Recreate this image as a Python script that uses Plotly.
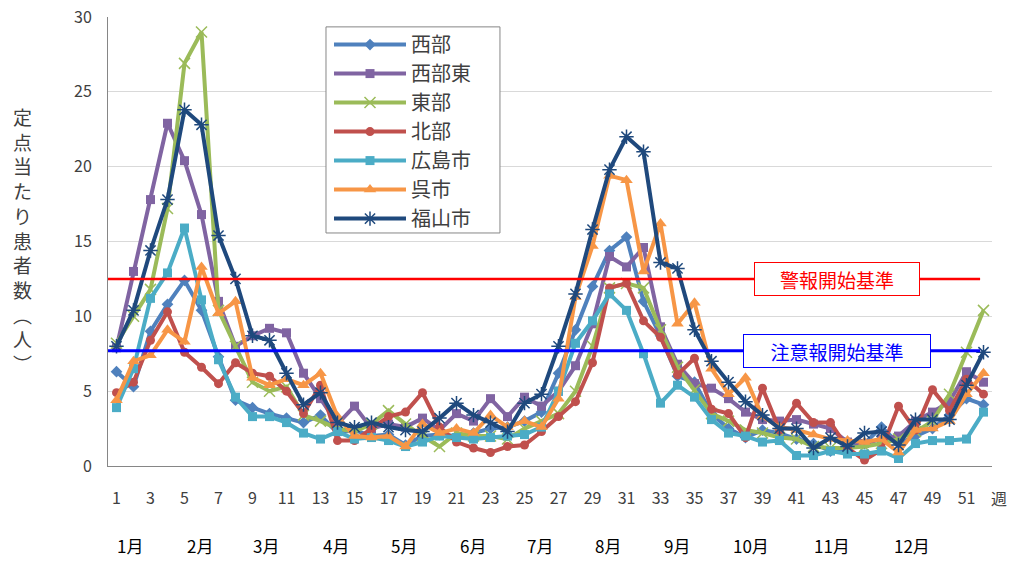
import plotly.graph_objects as go

weeks = list(range(1, 53))

seibu = [6.3, 5.3, 9.0, 10.8, 12.4, 10.4, 7.3, 4.4, 3.9, 3.5, 3.2, 2.9, 3.4, 2.2, 2.4, 2.0, 2.1, 1.4, 2.0, 2.1,
         2.0, 2.2, 2.5, 2.6, 3.0, 3.6, 6.2, 9.1, 12.0, 14.4, 15.3, 11.0, 8.7, 6.0, 5.6, 3.5, 2.5, 1.9, 2.4, 2.2,
         1.8, 1.5, 1.0, 1.2, 1.5, 2.6, 1.5, 2.0, 2.5, 3.4, 4.5, 4.1]
seibu_higashi = [7.9, 13.0, 17.8, 22.9, 20.4, 16.8, 11.0, 8.0, 8.7, 9.2, 8.9, 6.2, 4.5, 2.8, 4.0, 2.5, 2.8, 2.6, 3.2, 2.4,
                 3.5, 3.0, 4.5, 3.3, 4.6, 4.0, 5.0, 6.7, 9.5, 14.0, 13.3, 14.6, 9.3, 6.8, 5.5, 5.2, 4.5, 3.6, 3.1, 3.0,
                 3.1, 2.8, 2.5, 1.6, 1.5, 1.8, 2.0, 3.0, 3.6, 4.3, 6.3, 5.6]
higashi = [8.2, 10.0, 11.8, 17.2, 26.9, 29.0, 10.4, 8.0, 5.6, 5.0, 5.3, 3.4, 3.0, 2.5, 2.3, 2.8, 3.7, 2.8, 2.0, 1.3,
           2.2, 2.0, 2.0, 1.8, 2.5, 3.0, 3.5, 5.0, 8.0, 11.9, 12.2, 11.9, 9.1, 6.6, 5.1, 3.5, 3.0, 2.4, 2.2, 1.9,
           1.8, 1.3, 1.2, 1.2, 1.3, 1.5, 1.8, 2.3, 3.0, 4.8, 7.6, 10.4]
hokubu = [4.9, 5.6, 8.4, 10.3, 7.6, 6.6, 5.5, 6.9, 6.2, 6.0, 5.0, 3.5, 5.4, 1.7, 1.7, 2.5, 3.3, 3.6, 4.9, 2.6,
          1.6, 1.2, 0.9, 1.3, 1.4, 2.3, 3.3, 4.3, 6.9, 11.9, 12.2, 9.7, 8.6, 6.1, 7.2, 3.8, 3.5, 1.9, 5.2, 2.4,
          4.2, 2.9, 2.9, 1.2, 0.4, 1.1, 4.0, 2.4, 5.1, 3.7, 5.8, 4.8]
hiroshima = [3.9, 6.5, 11.2, 12.9, 15.9, 11.1, 7.1, 4.6, 3.3, 3.3, 2.9, 2.2, 1.8, 2.3, 1.8, 1.9, 1.7, 1.3, 1.6, 2.0,
             1.9, 1.8, 1.9, 2.0, 2.1, 2.6, 5.0, 8.2, 9.7, 11.5, 10.4, 7.5, 4.2, 5.4, 4.6, 3.1, 2.2, 2.0, 1.6, 1.7,
             0.7, 0.7, 1.0, 0.8, 0.8, 1.0, 0.5, 1.5, 1.7, 1.7, 1.8, 3.6]
kure = [4.4, 7.0, 7.4, 9.1, 8.3, 13.3, 10.2, 11.0, 5.9, 5.4, 5.8, 5.4, 6.2, 3.3, 2.0, 1.9, 2.0, 1.3, 2.8, 2.2,
        2.5, 2.2, 3.4, 2.6, 3.0, 2.6, 4.5, 11.3, 14.7, 19.4, 19.1, 13.0, 16.2, 9.5, 10.9, 6.5, 4.8, 5.9, 3.3, 2.6,
        2.4, 2.1, 1.8, 1.7, 1.6, 1.8, 0.9, 2.4, 2.5, 3.0, 4.8, 6.2]
fukuyama = [8.0, 10.4, 14.4, 17.8, 23.8, 22.8, 15.4, 12.5, 8.7, 8.4, 6.2, 4.1, 4.9, 2.9, 2.6, 2.9, 2.6, 2.4, 2.3, 3.2,
            4.2, 3.4, 2.9, 2.3, 4.2, 4.8, 8.0, 11.5, 15.8, 19.8, 22.0, 21.0, 13.6, 13.2, 9.1, 7.0, 5.6, 4.3, 3.4, 2.5,
            2.5, 1.2, 1.9, 1.3, 2.2, 2.3, 1.4, 3.1, 3.1, 3.1, 5.4, 7.6]

series_names = ["西部", "西部東", "東部", "北部", "広島市", "呉市", "福山市"]
series_values = [seibu, seibu_higashi, higashi, hokubu, hiroshima, kure, fukuyama]

warning_level = 12.5
caution_level = 7.7
warning_label = "警報開始基準"
caution_label = "注意報開始基準"

x_tick_values = list(range(1, 52, 2))
y_tick_values = [0, 5, 10, 15, 20, 25, 30]
month_labels = ["1月", "2月", "3月", "4月", "5月", "6月", "7月", "8月", "9月", "10月", "11月", "12月"]
month_pos = [1.8, 5.9, 9.8, 13.9, 17.9, 21.95, 25.9, 29.9, 33.95, 38.3, 43.1, 47.8]
week_unit = "週"
y_title_chars = ["定", "点", "当", "た", "り", "患", "者", "数", "︵", "人", "︶"]

colors = ["#4F81BD", "#8064A2", "#9BBB59", "#C0504D", "#4BACC6", "#F79646", "#1F497D"]
symbols = ["diamond", "square", "x-thin-open", "circle", "square", "triangle-up", "asterisk-open"]
msizes = [9, 9, 11, 9, 9, 11, 12]

FONT = "Noto Sans CJK JP"

fig = go.Figure()
for name, vals, c, s, ms in zip(series_names, series_values, colors, symbols, msizes):
    open_sym = s.endswith("open")
    fig.add_trace(go.Scatter(
        x=weeks, y=vals, name=name, mode="lines+markers",
        line=dict(color=c, width=4),
        marker=dict(symbol=s, size=ms, color=c,
                    line=dict(color=c, width=1.5 if open_sym else 0)),
    ))

fig.add_shape(type="line", xref="x", yref="y", x0=0.5, x1=51.8, y0=warning_level, y1=warning_level,
              line=dict(color="#FF0000", width=2.5), layer="above")
fig.add_shape(type="line", xref="x", yref="y", x0=0.5, x1=51.8, y0=caution_level, y1=caution_level,
              line=dict(color="#0000FF", width=3), layer="above")

# legend frame
fig.add_shape(type="rect", xref="paper", yref="paper", x0=0.2466, x1=0.4434, y0=0.519, y1=0.978,
              fillcolor="white", line=dict(color="#868686", width=1), layer="above")

fig.add_annotation(x=43.4, y=warning_level, xref="x", yref="y", text=warning_label, showarrow=False,
                   font=dict(family=FONT, size=19, color="#FF0000"), bgcolor="white",
                   bordercolor="#FF0000", borderwidth=1, width=160, height=28, borderpad=2)
fig.add_annotation(x=43.4, y=caution_level, xref="x", yref="y", text=caution_label, showarrow=False,
                   font=dict(family=FONT, size=19, color="#0000FF"), bgcolor="white",
                   bordercolor="#0000FF", borderwidth=1, width=182, height=28, borderpad=2)

for lab, pos in zip(month_labels, month_pos):
    fig.add_annotation(x=pos, y=-0.178, xref="x", yref="paper", text=lab, showarrow=False,
                       xanchor="center", yanchor="middle",
                       font=dict(family=FONT, size=17, color="#000000"))

fig.add_annotation(x=1.008, y=-0.071, xref="paper", yref="paper", text=week_unit, showarrow=False,
                   xanchor="center", yanchor="middle",
                   font=dict(family=FONT, size=16, color="#404040"))

fig.add_annotation(x=-0.097, y=0.503, xref="paper", yref="paper", text="<br>".join(y_title_chars),
                   showarrow=False, xanchor="center", yanchor="middle",
                   font=dict(family=FONT, size=19, color="#404040"))

fig.update_layout(
    width=1010, height=561,
    margin=dict(l=108, r=18, t=17, b=95, autoexpand=False),
    paper_bgcolor="white", plot_bgcolor="white",
    font=dict(family=FONT, color="#404040"),
    showlegend=True,
    legend=dict(x=0.25, y=0.982, xanchor="left", yanchor="top",
                bgcolor="rgba(0,0,0,0)", borderwidth=0,
                font=dict(family=FONT, size=20, color="#404040"),
                itemwidth=72, tracegroupgap=0),
    xaxis=dict(range=[0.5, 52.5], tickmode="array", tickvals=x_tick_values,
               ticktext=[str(v) for v in x_tick_values], showgrid=False, zeroline=False,
               showline=True, linecolor="#868686", linewidth=1, ticks="", automargin=False,
               ticklabeloverflow="allow",
               tickfont=dict(family=FONT, size=16, color="#404040"), ticklabelstandoff=18),
    yaxis=dict(range=[0, 30], tickmode="array", tickvals=y_tick_values, showgrid=True,
               gridcolor="#D9D9D9", gridwidth=1, zeroline=False, showline=True,
               linecolor="#868686", linewidth=1, ticks="", automargin=False,
               ticklabeloverflow="allow",
               tickfont=dict(family=FONT, size=16, color="#404040"), ticklabelstandoff=12),
)

fig.write_html("out.html", config={"displayModeBar": False},
               post_script="document.body.style.margin='0';document.body.style.overflow='hidden';")
